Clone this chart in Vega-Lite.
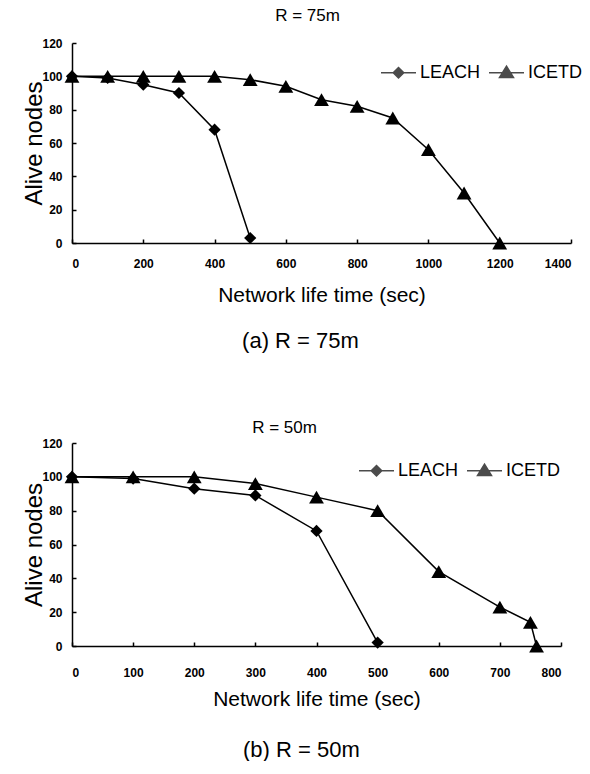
{
  "$schema": "https://vega.github.io/schema/vega-lite/v6.json",
  "padding": {"left": 22, "top": 7, "right": 0, "bottom": 0},
  "background": "white",
  "config": {
    "view": {"stroke": null},
    "font": "Liberation Sans",
    "axis": {
      "grid": false,
      "domainColor": "black",
      "domainWidth": 1.5,
      "tickColor": "black",
      "tickWidth": 1.5,
      "tickSize": -4,
      "labelColor": "black",
      "labelFont": "Liberation Sans",
      "labelFontWeight": "bold",
      "labelFontSize": 12,
      "labelOverlap": false,
      "titleColor": "black",
      "titleFont": "Liberation Sans",
      "titleFontWeight": "normal"
    },
    "legend": {
      "labelFont": "Liberation Sans",
      "labelFontSize": 18,
      "labelColor": "black",
      "symbolSize": 306,
      "labelOffset": 12,
      "columnPadding": 5,
      "direction": "horizontal",
      "orient": "none",
      "title": null
    },
    "title": {"font": "Liberation Sans", "fontWeight": "normal", "color": "black"}
  },
  "datasets": {
    "r75": [
      {"t": 0, "nodes": 100, "protocol": "LEACH"},
      {"t": 100, "nodes": 99, "protocol": "LEACH"},
      {"t": 200, "nodes": 95, "protocol": "LEACH"},
      {"t": 300, "nodes": 90, "protocol": "LEACH"},
      {"t": 400, "nodes": 68, "protocol": "LEACH"},
      {"t": 500, "nodes": 3, "protocol": "LEACH"},
      {"t": 0, "nodes": 100, "protocol": "ICETD"},
      {"t": 100, "nodes": 100, "protocol": "ICETD"},
      {"t": 200, "nodes": 100, "protocol": "ICETD"},
      {"t": 300, "nodes": 100, "protocol": "ICETD"},
      {"t": 400, "nodes": 100, "protocol": "ICETD"},
      {"t": 500, "nodes": 98, "protocol": "ICETD"},
      {"t": 600, "nodes": 94, "protocol": "ICETD"},
      {"t": 700, "nodes": 86, "protocol": "ICETD"},
      {"t": 800, "nodes": 82, "protocol": "ICETD"},
      {"t": 900, "nodes": 75, "protocol": "ICETD"},
      {"t": 1000, "nodes": 56, "protocol": "ICETD"},
      {"t": 1100, "nodes": 30, "protocol": "ICETD"},
      {"t": 1200, "nodes": 0, "protocol": "ICETD"}
    ],
    "r50": [
      {"t": 0, "nodes": 100, "protocol": "LEACH"},
      {"t": 100, "nodes": 99, "protocol": "LEACH"},
      {"t": 200, "nodes": 93, "protocol": "LEACH"},
      {"t": 300, "nodes": 89, "protocol": "LEACH"},
      {"t": 400, "nodes": 68, "protocol": "LEACH"},
      {"t": 500, "nodes": 2, "protocol": "LEACH"},
      {"t": 0, "nodes": 100, "protocol": "ICETD"},
      {"t": 100, "nodes": 100, "protocol": "ICETD"},
      {"t": 200, "nodes": 100, "protocol": "ICETD"},
      {"t": 300, "nodes": 96, "protocol": "ICETD"},
      {"t": 400, "nodes": 88, "protocol": "ICETD"},
      {"t": 500, "nodes": 80, "protocol": "ICETD"},
      {"t": 600, "nodes": 44, "protocol": "ICETD"},
      {"t": 700, "nodes": 23, "protocol": "ICETD"},
      {"t": 750, "nodes": 14, "protocol": "ICETD"},
      {"t": 760, "nodes": 0, "protocol": "ICETD"}
    ]
  },
  "spacing": 67,
  "vconcat": [
    {
      "title": {"text": "(a)  R = 75m", "orient": "bottom", "anchor": "middle", "fontSize": 22, "offset": 26, "dx": -2},
      "vconcat": [
        {
          "width": 499,
          "height": 200,
          "title": {"text": "R = 75m", "fontSize": 17, "offset": 12, "dx": -14},
          "data": {"name": "r75"},
          "layer": [
            {
              "mark": {"type": "line", "color": "black", "strokeWidth": 1.5},
              "encoding": {
                "x": {"field": "t", "type": "quantitative", "scale": {"domain": [0, 1400], "nice": false}, "axis": {"values": [0, 200, 400, 600, 800, 1000, 1200, 1400], "tickCount": 20, "format": "d", "labelOverlap": false, "title": "Network life time (sec)", "titleFontSize": 21, "labelPadding": 19, "titlePadding": 15}},
                "y": {"field": "nodes", "type": "quantitative", "scale": {"domain": [0, 120], "nice": false}, "axis": {"values": [0, 20, 40, 60, 80, 100, 120], "tickCount": 10, "format": "d", "labelOverlap": false, "title": "Alive nodes", "titleFontSize": 24, "labelPadding": 14, "titlePadding": -5}},
                "detail": {"field": "protocol"}
              }
            },
            {
              "mark": {"type": "point", "filled": true, "color": "black", "opacity": 1},
              "encoding": {
                "x": {"field": "t", "type": "quantitative"},
                "y": {"field": "nodes", "type": "quantitative"},
                "shape": {"field": "protocol", "type": "nominal", "scale": {"domain": ["LEACH", "ICETD"], "range": ["diamond", "triangle-up"]}, "legend": null},
                "size": {"field": "protocol", "type": "nominal", "scale": {"domain": ["LEACH", "ICETD"], "range": [150, 220]}, "legend": null}
              }
            },
            {
              "transform": [{"filter": "false"}],
              "mark": {"type": "point", "filled": true, "fill": "black", "stroke": "black", "strokeWidth": 1.5},
              "encoding": {
                "x": {"field": "t", "type": "quantitative"},
                "y": {"field": "nodes", "type": "quantitative"},
                "shape": {"field": "protocol", "type": "nominal", "scale": {"domain": ["LEACH", "ICETD"], "range": ["M-2,0H2M0,-0.6L0.6,0L0,0.6L-0.6,0Z", "M-2,0H2M0,-0.75L0.8,0.55L-0.8,0.55Z"]}, "legend": {"legendX": 317, "legendY": 20, "encode": {"symbols": {"update": {"fill": {"value": "black"}, "stroke": {"value": "black"}, "strokeWidth": {"value": 1.5}, "opacity": {"value": 1}}}}}}
              }
            }
          ],
          "resolve": {"scale": {"shape": "independent", "size": "independent"}}
        }
      ]
    },
    {
      "title": {"text": "(b)  R = 50m", "orient": "bottom", "anchor": "middle", "fontSize": 22, "offset": 31, "dx": 9},
      "vconcat": [
        {
          "width": 489,
          "height": 203,
          "title": {"text": "R = 50m", "fontSize": 17, "offset": 0, "dx": -32},
          "data": {"name": "r50"},
          "layer": [
            {
              "mark": {"type": "line", "color": "black", "strokeWidth": 1.5},
              "encoding": {
                "x": {"field": "t", "type": "quantitative", "scale": {"domain": [0, 800], "nice": false}, "axis": {"values": [0, 100, 200, 300, 400, 500, 600, 700, 800], "tickCount": 20, "format": "d", "labelOverlap": false, "title": "Network life time (sec)", "titleFontSize": 21, "labelPadding": 25, "titlePadding": 10}},
                "y": {"field": "nodes", "type": "quantitative", "scale": {"domain": [0, 120], "nice": false}, "axis": {"values": [0, 20, 40, 60, 80, 100, 120], "tickCount": 10, "format": "d", "labelOverlap": false, "title": "Alive nodes", "titleFontSize": 24, "labelPadding": 14, "titlePadding": -5}},
                "detail": {"field": "protocol"}
              }
            },
            {
              "mark": {"type": "point", "filled": true, "color": "black", "opacity": 1},
              "encoding": {
                "x": {"field": "t", "type": "quantitative"},
                "y": {"field": "nodes", "type": "quantitative"},
                "shape": {"field": "protocol", "type": "nominal", "scale": {"domain": ["LEACH", "ICETD"], "range": ["diamond", "triangle-up"]}, "legend": null},
                "size": {"field": "protocol", "type": "nominal", "scale": {"domain": ["LEACH", "ICETD"], "range": [150, 220]}, "legend": null}
              }
            },
            {
              "transform": [{"filter": "false"}],
              "mark": {"type": "point", "filled": true, "fill": "black", "stroke": "black", "strokeWidth": 1.5},
              "encoding": {
                "x": {"field": "t", "type": "quantitative"},
                "y": {"field": "nodes", "type": "quantitative"},
                "shape": {"field": "protocol", "type": "nominal", "scale": {"domain": ["LEACH", "ICETD"], "range": ["M-2,0H2M0,-0.6L0.6,0L0,0.6L-0.6,0Z", "M-2,0H2M0,-0.75L0.8,0.55L-0.8,0.55Z"]}, "legend": {"legendX": 295, "legendY": 18, "encode": {"symbols": {"update": {"fill": {"value": "black"}, "stroke": {"value": "black"}, "strokeWidth": {"value": 1.5}, "opacity": {"value": 1}}}}}}
              }
            }
          ],
          "resolve": {"scale": {"shape": "independent", "size": "independent"}}
        }
      ]
    }
  ]
}
